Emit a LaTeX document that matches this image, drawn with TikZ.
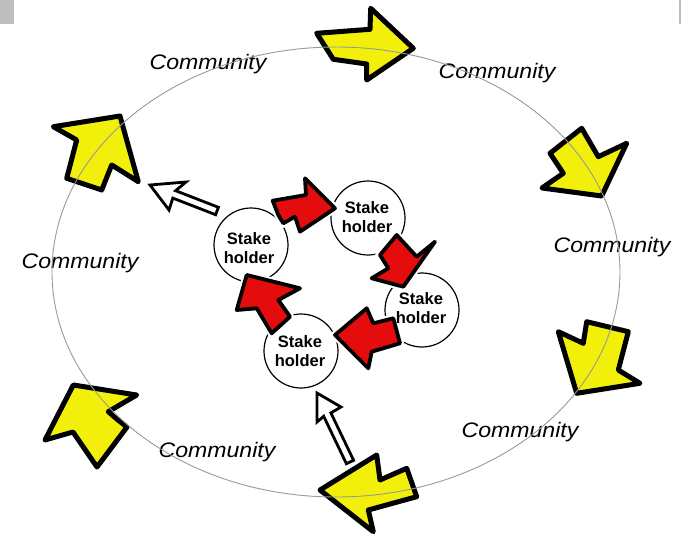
\documentclass[tikz,border=0pt]{standalone}
\usepackage{fontspec}
\setmainfont{Liberation Sans}
\definecolor{yel}{RGB}{242,240,10}
\definecolor{redf}{RGB}{228,12,12}
\definecolor{barg}{RGB}{190,190,190}
\begin{document}
\begin{tikzpicture}[x=1pt,y=-1pt,
  yarrow/.style={fill=yel,draw=black,line width=5pt,line join=round},
  rarrow/.style={fill=redf,draw=black,line width=3.8pt,line join=round,preaction={draw=white,line width=8pt}},
  harrow/.style={fill=white,draw=black,line width=2.8pt,line join=miter},
  comm/.style={font=\fontsize{21}{25}\selectfont\itshape,anchor=base,xscale=1.1,transform shape,inner sep=0pt},
  stake/.style={circle,draw=black,line width=1.2pt,fill=white,minimum size=74pt,inner sep=0pt},
  staketext/.style={align=center,inner sep=0pt,font=\fontsize{16.5}{18.5}\selectfont\bfseries},
  ring/.style={draw=gray!80,line width=0.9pt}]
\path[use as bounding box] (0,0) rectangle (681,535);
\fill[white] (0,0) rectangle (681,535);
\fill[barg] (0,0) rectangle (14,24);
\fill[barg] (679,0) rectangle (681,24);

% yellow arrows (outer cycle)
\draw[yarrow] (316.7,33.3) -- (370,29.3) -- (370.7,8.3) -- (413.3,48.3) -- (366.7,80) -- (366.7,64) -- (343.3,60.7) -- (333.3,59.3) -- cycle;
\draw[yarrow] (581.7,128.3) -- (598.3,156.7) -- (626.7,143.3) -- (601.7,196) -- (542,188) -- (563.3,173.3) -- (550,153.3) -- cycle;
\draw[yarrow] (558.3,331.7) -- (583.3,343.3) -- (586.7,321.7) -- (628.3,331.7) -- (618.3,370) -- (640,383.3) -- (576.7,393.3) -- cycle;
\draw[yarrow] (320,490) -- (376.7,455) -- (380,480) -- (406.7,468.3) -- (416.7,496.7) -- (368.3,510) -- (373.3,531.7) -- cycle;
\draw[yarrow] (73.3,385) -- (136.7,395) -- (108.3,411.7) -- (118,420) -- (127,427) -- (97,467) -- (73,432) -- (45,440) -- cycle;
\draw[yarrow] (53.3,126.7) -- (120,116) -- (138.3,181.7) -- (111.7,165) -- (101.7,190) -- (66.7,178.3) -- (76.7,140) -- cycle;

% community labels
\node[comm] (c1) at (208,70) {Community};
\node[comm] (c2) at (497,79) {Community};
\node[comm] (c3) at (612,252) {Community};
\node[comm] (c4) at (80,268) {Community};
\node[comm] (c5) at (520,437) {Community};
\node[comm] (c6) at (217,457) {Community};

% big ring
\draw[ring] (336,272) ellipse [x radius=284pt, y radius=225pt];

% stakeholders
\node[stake] (s1) at (251,245) {};
\node[stake] (s2) at (368,218) {};
\node[stake] (s3) at (422,310) {};
\node[stake] (s4) at (301,351) {};

% red arrows (inner cycle)
\draw[rarrow] (272.7,200.7) -- (306,195) -- (305,178.3) -- (335,208.3) -- (300,231.7) -- (295,216.7) -- (283.3,223.3) -- (278.3,215) -- cycle;
\draw[rarrow] (396.7,235) -- (416.7,256.7) -- (435,241.7) -- (403.3,286.7) -- (371.7,278.3) -- (388.3,268.3) -- (380,255) -- cycle;
\draw[rarrow] (335,335) -- (366.7,308.3) -- (373.3,323.3) -- (393.3,318.3) -- (400,343.3) -- (371.7,351.7) -- (368.3,368.3) -- cycle;
\draw[rarrow] (246.7,275) -- (300,288.3) -- (278.3,300) -- (290,316.7) -- (271.7,333.3) -- (256.7,308.3) -- (236.7,310) -- cycle;

% stakeholder texts
\node[staketext] (t1) at (249,248) {Stake\\holder};
\node[staketext] (t2) at (367,217) {Stake\\holder};
\node[staketext] (t3) at (421,308) {Stake\\holder};
\node[staketext] (t4) at (300,351) {Stake\\holder};

% hollow arrows
\draw[harrow] (150,185) -- (186,182) -- (175.6,190.7) -- (218.4,207.3) -- (215.6,214.7) -- (172.8,198.1) -- (169,210) -- cycle;
\draw[harrow] (317,393) -- (341,407) -- (330.9,412.9) -- (353.6,460.3) -- (346.4,463.7) -- (323.7,416.3) -- (317,422) -- cycle;
\end{tikzpicture}
\end{document}
